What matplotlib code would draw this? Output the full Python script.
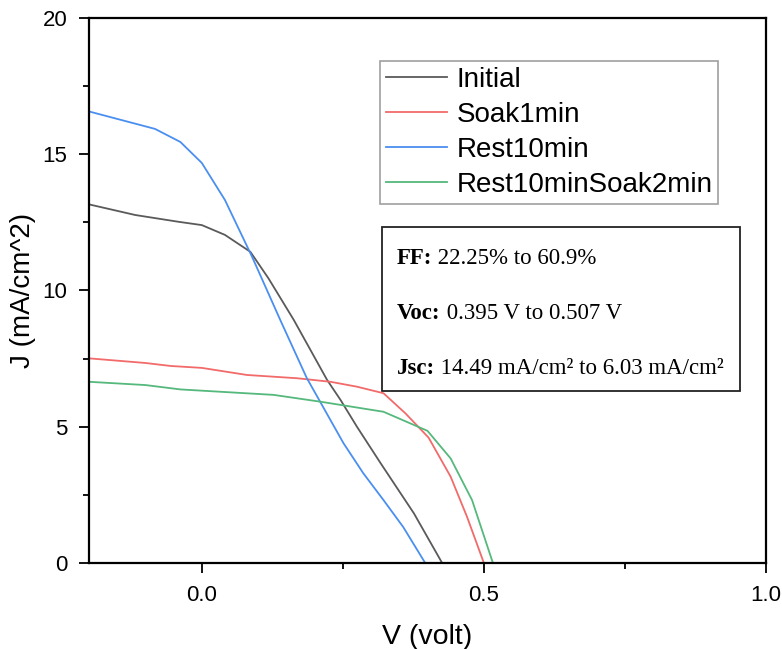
import numpy as np
import matplotlib
matplotlib.use("Agg")
import matplotlib.pyplot as plt
from matplotlib.ticker import MultipleLocator

plt.rcParams['font.family'] = ['Liberation Sans', 'DejaVu Sans']

# J-V curves (V in volt, J in mA/cm^2)
v_initial = [-0.2, -0.118, -0.041, 0.0, 0.041, 0.086, 0.118, 0.163, 0.222, 0.246, 0.275, 0.317, 0.376, 0.426]
j_initial = [13.16, 12.77, 12.52, 12.40, 12.04, 11.42, 10.45, 8.92, 6.72, 5.98, 5.0, 3.66, 1.82, 0.0]

v_soak1 = [-0.2, -0.1, -0.055, 0.0, 0.08, 0.169, 0.228, 0.275, 0.322, 0.361, 0.402, 0.441, 0.47, 0.5]
j_soak1 = [7.51, 7.34, 7.23, 7.16, 6.9, 6.78, 6.65, 6.47, 6.23, 5.49, 4.6, 3.17, 1.70, 0.0]

v_rest10 = [-0.2, -0.083, -0.038, 0.0, 0.041, 0.089, 0.139, 0.186, 0.251, 0.286, 0.322, 0.357, 0.396]
j_rest10 = [16.57, 15.93, 15.45, 14.68, 13.32, 11.24, 8.92, 6.79, 4.4, 3.3, 2.31, 1.32, 0.0]

v_rest_soak2 = [-0.2, -0.1, -0.038, 0.127, 0.21, 0.322, 0.4, 0.441, 0.479, 0.516]
j_rest_soak2 = [6.65, 6.53, 6.37, 6.17, 5.92, 5.55, 4.85, 3.84, 2.31, 0.0]

labels = ['Initial', 'Soak1min', 'Rest10min', 'Rest10minSoak2min']
colors = ['#5a5a5a', '#f26a6a', '#4a8ff0', '#55b87c']

fig = plt.figure(figsize=(7.82, 6.49), dpi=100)
ax = fig.add_axes([0.1138, 0.1325, 0.8657, 0.8398])

series = [(v_initial, j_initial), (v_soak1, j_soak1), (v_rest10, j_rest10), (v_rest_soak2, j_rest_soak2)]
for (v, j), lab, c in zip(series, labels, colors):
    ax.plot(v, j, color=c, lw=1.3, label=lab)

ax.set_xlim(-0.2, 1.0)
ax.set_ylim(0, 20)
ax.xaxis.set_major_locator(MultipleLocator(0.5))
ax.xaxis.set_minor_locator(MultipleLocator(0.25))
ax.yaxis.set_major_locator(MultipleLocator(5))
ax.yaxis.set_minor_locator(MultipleLocator(2.5))
ax.tick_params(which='major', direction='out', length=7.5, width=1.3, labelsize=16, pad=8)
ax.tick_params(which='minor', direction='out', length=4.3, width=1.3)
ax.tick_params(top=False, right=False, which='both')
for s in ax.spines.values():
    s.set_linewidth(1.6)

ax.set_xlabel('V (volt)', fontsize=20.5, labelpad=13)
ax.set_ylabel('J (mA/cm^2)', fontsize=20, labelpad=5)

leg = ax.legend(loc='upper left', bbox_to_anchor=(0.43, 0.921), borderaxespad=0,
                fontsize=20, frameon=True, fancybox=False, handlelength=2.2,
                handletextpad=0.35, labelspacing=0.33, borderpad=0.2)
leg.get_frame().set_edgecolor('#888888')
leg.get_frame().set_linewidth(1.2)

# results box
box = plt.Rectangle((0.433, 0.315), 0.528, 0.302, transform=ax.transAxes,
                    fill=False, edgecolor='#222222', lw=1.3)
ax.add_patch(box)
lines = [('FF:', ' 22.25% to 60.9%'),
         ('Voc:', ' 0.395 V to 0.507 V'),
         ('Jsc:', ' 14.49 mA/cm\u00b2 to 6.03 mA/cm\u00b2')]
ys = [0.548, 0.447, 0.346]
for (b, t), y in zip(lines, ys):
    tb = ax.text(0.455, y, b, transform=ax.transAxes, fontsize=16.5,
                 family='Liberation Serif', fontweight='bold', va='baseline')
    fig.canvas.draw()
    bb = tb.get_window_extent().transformed(ax.transAxes.inverted())
    ax.text(bb.x1, y, t, transform=ax.transAxes, fontsize=16.5,
            family='Liberation Serif', va='baseline')

fig.savefig('out.png', dpi=100)
